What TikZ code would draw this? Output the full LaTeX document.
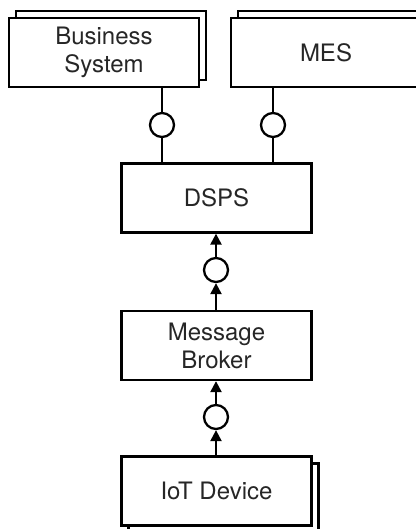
\documentclass[tikz,border=0pt]{standalone}
\usepackage{fontspec}
\setmainfont{TeX Gyre Heros}
\usetikzlibrary{arrows.meta,shadows}

\begin{document}
\begin{tikzpicture}[x=1pt, y=-1pt,
    every node/.style={text=black!85, font=\fontsize{24}{28}\selectfont},
    comp/.style={draw, fill=white, line width=2.3pt, minimum width=190pt, minimum height=69pt, align=center},
    stackup/.style={copy shadow={shadow xshift=7pt, shadow yshift=7pt}},
    stackdown/.style={copy shadow={shadow xshift=7pt, shadow yshift=-7pt}},
    iface/.style={draw, circle, line width=2.3pt, minimum size=24pt, inner sep=0pt},
    link/.style={line width=2.3pt},
    flow/.style={line width=2.3pt, -{Triangle[length=11pt, width=11pt]}},
    ]
  \useasboundingbox (0,0) rectangle (415,529);

  % components
  \node[comp, stackup] (bs) at (104,52.5) {Business\\System};
  \node[comp, stackup] (mes) at (326,52.5) {MES};
  \node[comp] (dsps) at (216.5,198) {DSPS};
  \node[comp] (broker) at (216.5,345.5) {Message\\Broker};
  \node[comp, stackdown] (iot) at (216.5,491) {IoT Device};

  % interfaces
  \node[iface] (ibs) at (162,125) {};
  \node[iface] (imes) at (273,125) {};
  \node[iface] (idsps) at (216,270) {};
  \node[iface] (ibroker) at (216,417) {};

  \draw[link] (ibs) -- (ibs |- bs.south);
  \draw[link] (ibs) -- (ibs |- dsps.north);
  \draw[link] (imes) -- (imes |- mes.south);
  \draw[link] (imes) -- (imes |- dsps.north);

  \draw[flow] (idsps) -- (idsps |- dsps.south);
  \draw[flow] (idsps |- broker.north) -- (idsps);
  \draw[flow] (ibroker) -- (ibroker |- broker.south);
  \draw[flow] (ibroker |- iot.north) -- (ibroker);

\end{tikzpicture}
\end{document}
